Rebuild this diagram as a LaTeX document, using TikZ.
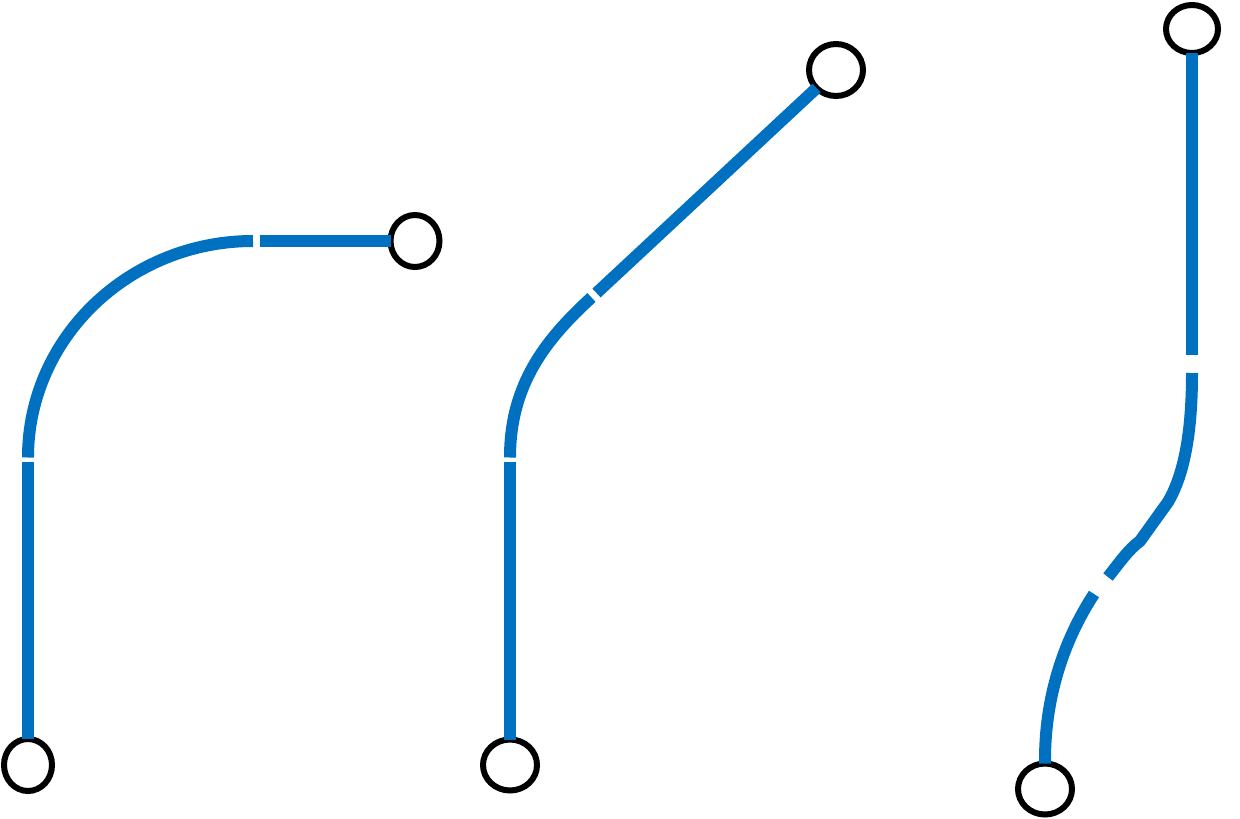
\documentclass[tikz,border=0pt]{standalone}
\usetikzlibrary{shapes.geometric}
\definecolor{wireblue}{HTML}{0070C0}
\begin{document}
\begin{tikzpicture}[x=1pt,y=-1pt,
  endpt/.style={ellipse,draw=black,fill=white,line width=6pt,inner sep=0pt,outer sep=0pt},
  wire/.style={draw=wireblue,line width=12pt,line cap=butt}]
\path[use as bounding box,fill=white] (0,0) rectangle (1240,819);
% end points
\node[endpt,minimum width=48pt,minimum height=52pt] (a1) at (28,765) {};
\node[endpt,minimum width=49pt,minimum height=52pt] (a2) at (415,241) {};
\node[endpt,minimum width=54pt,minimum height=51pt] (b1) at (510,765) {};
\node[endpt,minimum width=54pt,minimum height=52pt] (b2) at (836,70) {};
\node[endpt,minimum width=52pt,minimum height=48pt] (c1) at (1192,29) {};
\node[endpt,minimum width=54pt,minimum height=51pt] (c2) at (1045,789) {};
% gap coordinates
\coordinate (a3) at (28,461.5);
\coordinate (a4) at (28,457.5);
\coordinate (a5) at (253,241);
\coordinate (a6) at (259.5,241);
\coordinate (b3) at (510,461.5);
\coordinate (b4) at (510,457.5);
\coordinate (b5) at (591.5,297.5);
\coordinate (b6) at (596.5,293);
\coordinate (c3) at (1192,355);
\coordinate (c4) at (1192,373);
\coordinate (c5) at (1140,541);
\coordinate (c6) at (1108,577);
\coordinate (c7) at (1094,594);
\coordinate (c8) at (1045,760);
% path 1
\draw[wire] (a1) -- (a3);
\draw[wire] (a4) .. controls (28,338) and (129,241) .. (a5);
\draw[wire] (a6) -- (a2);
% path 2
\draw[wire] (b1) -- (b3);
\draw[wire] (b4) .. controls (510,385) and (545,340) .. (b5);
\draw[wire] (b6) -- (b2);
% path 3
\draw[wire] (c1) -- (c3);
\draw[wire] (c4) .. controls (1192,440) and (1182,478) .. (1168,502) -- (c5)
  .. controls (1128,550) and (1120,562) .. (c6);
\draw[wire] (c7) .. controls (1062,643) and (1045,700) .. (c8) -- (c2);
\end{tikzpicture}
\end{document}
